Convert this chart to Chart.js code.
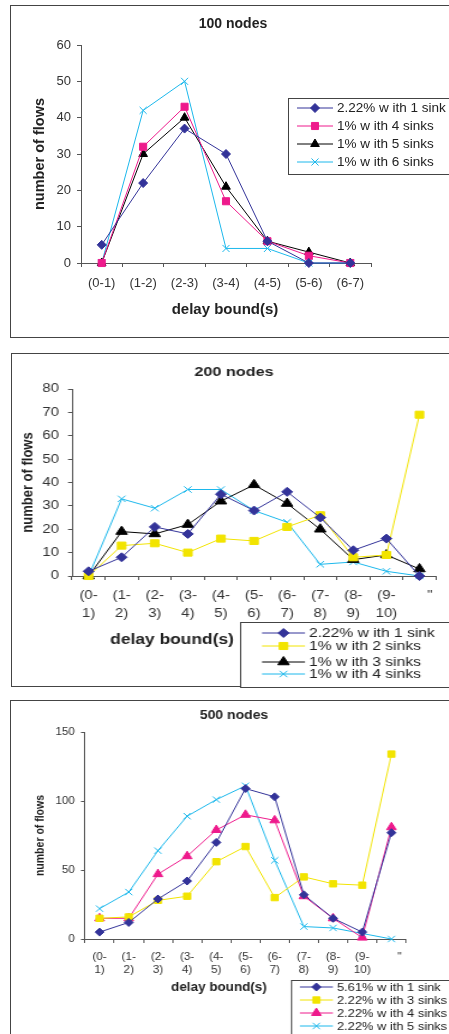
<!DOCTYPE html>
<html>
<head>
<meta charset="utf-8">
<script src="https://cdn.jsdelivr.net/npm/chart.js@4/dist/chart.umd.min.js"></script>
<style>
  html, body { margin: 0; padding: 0; background: #fff; overflow: hidden; width: 449px; height: 1034px; }
  .frame { position: absolute; box-sizing: border-box; border: 1px solid #444; background: #fff; }
  canvas { position: absolute; left: 0; }
</style>
</head>
<body>
<div class="frame" style="left:10px;top:5px;width:480px;height:333px"></div>
<div class="frame" style="left:11px;top:353px;width:480px;height:334px"></div>
<div class="frame" style="left:10px;top:700px;width:480px;height:400px"></div>
<canvas id="c100"></canvas>
<canvas id="c200"></canvas>
<canvas id="c500"></canvas>
<script>
// ---- data ----
const cats100 = ['(0-1)', '(1-2)', '(2-3)', '(3-4)', '(4-5)', '(5-6)', '(6-7)'];
const yTicks100 = [0, 10, 20, 30, 40, 50, 60];
const n100Sink1 = [5, 22, 37, 30, 6, 0, 0];
const n100Sinks4 = [0, 32, 43, 17, 6, 2, 0];
const n100Sinks5 = [0, 30, 40, 21, 6, 3, 0];
const n100Sinks6 = [0, 42, 50, 4, 4, 0, 0];

const catsLong = [['(0-', '1)'], ['(1-', '2)'], ['(2-', '3)'], ['(3-', '4)'], ['(4-', '5)'], ['(5-', '6)'],
  ['(6-', '7)'], ['(7-', '8)'], ['(8-', '9)'], ['(9-', '10)'], '     "'];

const yTicks200 = [0, 10, 20, 30, 40, 50, 60, 70, 80];
const n200Sink1 = [2, 8, 21, 18, 35, 28, 36, 25, 11, 16, 0];
const n200Sinks2 = [0, 13, 14, 10, 16, 15, 21, 26, 8, 9, 69];
const n200Sinks3 = [0, 19, 18, 22, 32, 39, 31, 20, 7, 9, 3];
const n200Sinks4 = [0, 33, 29, 37, 37, 28, 23, 5, 6, 2, 0];

const yTicks500 = [0, 50, 100, 150];
const n500Sink1 = [5, 12, 29, 42, 70, 109, 103, 32, 15, 5, 77];
const n500Sinks3 = [15, 16, 28, 31, 56, 67, 30, 45, 40, 39, 134];
const n500Sinks4 = [15, 15, 47, 60, 79, 90, 86, 31, 15, 1, 81];
const n500Sinks5 = [22, 34, 64, 89, 101, 111, 57, 9, 8, 4, 0];

const FONT = "'Liberation Sans', Arial, sans-serif";
const NAVY = '#333399', PINK = '#ee1a8c', BLACK = '#000000', CYAN = '#1cb8ec', YELLOW = '#f2e400';

// axis title under the plot + boxed legend, placed like the original
const extras = {
  id: 'extras',
  afterDraw(chart, args, o) {
    const ctx = chart.ctx;
    ctx.save();
    ctx.fillStyle = '#222';
    ctx.textAlign = 'center';
    ctx.textBaseline = 'middle';
    ctx.font = `bold ${o.xTitle.size}px ${FONT}`;
    ctx.fillText(o.xTitle.text, o.xTitle.x, o.xTitle.y);

    const L = o.legend;
    ctx.fillStyle = '#fff';
    ctx.fillRect(L.l, L.t, L.r - L.l, L.b - L.t);
    ctx.strokeStyle = '#444';
    ctx.lineWidth = 1;
    ctx.strokeRect(L.l + 0.5, L.t + 0.5, L.r - L.l, L.b - L.t);
    chart.data.datasets.forEach((ds, i) => {
      const y = L.rows[i];
      ctx.strokeStyle = ds.borderColor;
      ctx.lineWidth = 1;
      ctx.beginPath();
      ctx.moveTo(L.x1, y);
      ctx.lineTo(L.x2, y);
      ctx.stroke();
      const pt = chart.getDatasetMeta(i).data[0].options;
      ctx.fillStyle = pt.backgroundColor;
      ctx.strokeStyle = pt.borderColor;
      ctx.lineWidth = pt.borderWidth;
      if (Chart.helpers && Chart.helpers.drawPoint) Chart.helpers.drawPoint(ctx, pt, (L.x1 + L.x2) / 2, y);
      ctx.fillStyle = '#222';
      ctx.textAlign = 'left';
      ctx.font = `${L.size}px ${FONT}`;
      ctx.fillText(ds.label, L.tx, y + 0.5);
    });
    ctx.restore();
  }
};

// g is in page pixels; s squeezes the canvas so it gets stretched back like the scan
function build(id, g, title, labels, yTicks, series) {
  const cv = document.getElementById(id);
  const s = g.stretch;
  const X = v => v / s;
  cv.width = Math.round(g.w / s);
  cv.height = g.h;
  cv.style.cssText = `top:${g.top}px;width:${g.w}px;height:${g.h}px`;
  const tlh = g.titleSize * 1.2;
  const ylh = g.yTitleSize * 1.2;

  new Chart(cv, {
    type: 'line',
    data: {
      labels: labels,
      datasets: series.map(d => ({
        label: d.label, data: d.data,
        borderColor: d.color, backgroundColor: d.color,
        pointBorderColor: d.color, pointBackgroundColor: d.color,
        borderWidth: 1, pointBorderWidth: 1,
        pointStyle: d.style, pointRadius: d.r, pointHoverRadius: d.r,
        tension: 0, fill: false, clip: false
      }))
    },
    options: {
      responsive: false,
      animation: false,
      devicePixelRatio: 1,
      events: [],
      layout: { padding: 0 },
      plugins: {
        legend: { display: false },
        tooltip: { enabled: false },
        title: {
          display: true, text: title, color: '#222',
          font: { family: FONT, size: g.titleSize, weight: 'bold', lineHeight: 1.2 },
          padding: { top: g.titleY - tlh / 2, bottom: g.area.t - g.titleY - tlh / 2 }
        },
        extras: {
          xTitle: { text: 'delay bound(s)', x: X(g.xTitle.x), y: g.xTitle.y, size: g.xTitle.size },
          legend: {
            l: X(g.leg.l), r: X(g.leg.r), t: g.leg.t, b: g.leg.b, rows: g.leg.rows,
            x1: X(g.leg.x1), x2: X(g.leg.x2), tx: X(g.leg.tx), size: g.leg.size
          }
        }
      },
      scales: {
        x: {
          type: 'category',
          offset: true,
          afterFit: sc => { sc.height = g.h - g.area.b; },
          grid: { offset: true, drawOnChartArea: false, tickLength: 4, color: '#555' },
          border: { color: '#555' },
          ticks: {
            autoSkip: false, maxRotation: 0, minRotation: 0, color: '#333',
            font: { family: FONT, size: g.tickSize, lineHeight: g.tickLine + 'px' },
            padding: g.tickY - g.area.b - 4 - g.tickLine / 2
          }
        },
        y: {
          min: yTicks[0],
          max: yTicks[yTicks.length - 1],
          afterBuildTicks: sc => { sc.ticks = yTicks.map(v => ({ value: v })); },
          afterFit: sc => { sc.width = X(g.area.l); },
          grid: { drawOnChartArea: false, tickLength: X(4), color: '#555' },
          border: { color: '#555' },
          ticks: { color: '#333', font: { family: FONT, size: g.ySize }, padding: X(g.yPad) },
          title: {
            display: true, text: 'number of flows', color: '#222',
            font: { family: FONT, size: g.yTitleSize, weight: 'bold', lineHeight: 1.2 },
            padding: { top: X(g.yTitleX) - ylh / 2, bottom: 0 }
          }
        },
        // empty right-hand strip so the plot ends where the original does
        // while the title still centres on the whole panel
        spacer: {
          type: 'linear',
          position: 'right',
          display: true,
          grid: { display: false },
          border: { display: false },
          ticks: { display: false },
          afterFit: sc => { sc.width = X(g.w - g.area.r); }
        }
      }
    },
    plugins: [extras]
  });
}

build('c100', {
  top: 0, w: 466, h: 345, stretch: 1,
  area: { l: 81, r: 371, t: 45, b: 263 },
  titleSize: 14, titleY: 24,
  yTitleSize: 14.5, yTitleX: 40, ySize: 13, yPad: 6,
  tickSize: 13, tickLine: 15.6, tickY: 283,
  xTitle: { x: 225, y: 310, size: 15 },
  leg: { l: 288, r: 462, t: 98, b: 174, rows: [108, 126, 144, 162], x1: 297, x2: 333, tx: 337, size: 13.5 }
}, '100 nodes', cats100, yTicks100, [
  { label: '2.22% w ith 1 sink', data: n100Sink1, color: NAVY, style: 'rectRot', r: 4.5 },
  { label: '1% w ith 4 sinks', data: n100Sinks4, color: PINK, style: 'rect', r: 5 },
  { label: '1% w ith 5 sinks', data: n100Sinks5, color: BLACK, style: 'triangle', r: 5 },
  { label: '1% w ith 6 sinks', data: n100Sinks6, color: CYAN, style: 'crossRot', r: 5 }
]);

build('c200', {
  top: 350, w: 468, h: 340, stretch: 1.2,
  area: { l: 72, r: 436, t: 39, b: 226 },
  titleSize: 13.5, titleY: 22,
  yTitleSize: 13, yTitleX: 28, ySize: 12.5, yPad: 9,
  tickSize: 12.5, tickLine: 18, tickY: 246,
  xTitle: { x: 172, y: 290, size: 14.5 },
  leg: { l: 240, r: 466, t: 272, b: 337, rows: [283, 296, 312, 324], x1: 262, x2: 305, tx: 309, size: 13 }
}, '200 nodes', catsLong, yTicks200, [
  { label: '2.22% w ith 1 sink', data: n200Sink1, color: NAVY, style: 'rectRot', r: 4.5 },
  { label: '1% w ith 2 sinks', data: n200Sinks2, color: YELLOW, style: 'rect', r: 5 },
  { label: '1% w ith 3 sinks', data: n200Sinks3, color: BLACK, style: 'triangle', r: 5.5 },
  { label: '1% w ith 4 sinks', data: n200Sinks4, color: CYAN, style: 'crossRot', r: 4.5 }
]);

build('c500', {
  top: 695, w: 468, h: 339, stretch: 1.12,
  area: { l: 85, r: 406, t: 37, b: 244 },
  titleSize: 12.5, titleY: 21,
  yTitleSize: 10.5, yTitleX: 40, ySize: 10.5, yPad: 6,
  tickSize: 10.5, tickLine: 13.5, tickY: 262,
  xTitle: { x: 219, y: 293, size: 12 },
  leg: { l: 291, r: 466, t: 285, b: 360, rows: [292, 305, 318, 331], x1: 300, x2: 333, tx: 337, size: 11.5 }
}, '500 nodes', catsLong, yTicks500, [
  { label: '5.61% w ith 1 sink', data: n500Sink1, color: NAVY, style: 'rectRot', r: 4 },
  { label: '2.22% w ith 3 sinks', data: n500Sinks3, color: YELLOW, style: 'rect', r: 4.5 },
  { label: '2.22% w ith 4 sinks', data: n500Sinks4, color: PINK, style: 'triangle', r: 5 },
  { label: '2.22% w ith 5 sinks', data: n500Sinks5, color: CYAN, style: 'crossRot', r: 4.5 }
]);
</script>
</body>
</html>
